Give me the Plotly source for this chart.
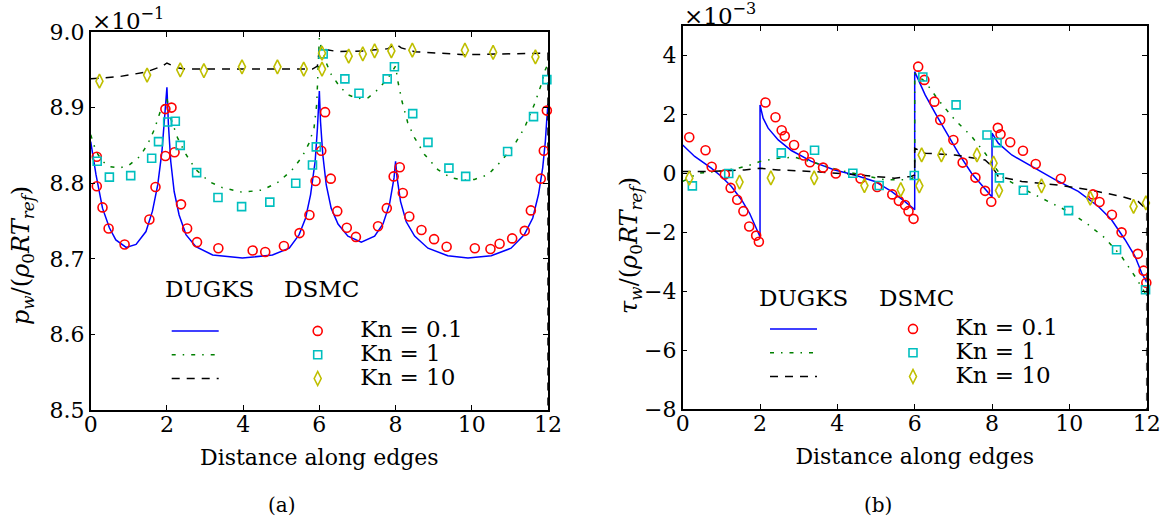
import plotly.graph_objects as go

# ---------------- data : left panel (pressure, units of 1e-1) ----------------
p_blue_x = [0, 0.14, 0.31, 0.49, 0.66, 0.93, 1.19, 1.45, 1.62, 1.76, 1.87, 1.96, 2.0, 2.04, 2.10, 2.19,
            2.32, 2.50, 2.76, 3.20, 3.98, 4.77, 5.21, 5.47, 5.64, 5.77, 5.89, 5.95, 6.0, 6.03, 6.09,
            6.18, 6.31, 6.49, 6.75, 7.10, 7.45, 7.67, 7.84, 7.96, 8.0, 8.04, 8.13, 8.28, 8.50, 8.85,
            9.37, 9.90, 10.51, 11.03, 11.38, 11.60, 11.75, 11.86, 11.93, 11.97, 12.0]
p_blue_y = [8.855, 8.811, 8.767, 8.741, 8.725, 8.715, 8.719, 8.736, 8.763, 8.798, 8.842, 8.895, 8.927,
            8.877, 8.829, 8.789, 8.758, 8.732, 8.716, 8.705, 8.701, 8.705, 8.714, 8.732, 8.754, 8.785,
            8.829, 8.873, 8.922, 8.882, 8.838, 8.798, 8.767, 8.746, 8.730, 8.722, 8.730, 8.746, 8.772,
            8.807, 8.829, 8.807, 8.776, 8.749, 8.730, 8.714, 8.704, 8.701, 8.704, 8.714, 8.732, 8.754,
            8.785, 8.820, 8.855, 8.886, 8.905]

p_green_x = [0, 0.14, 0.31, 0.49, 0.75, 1.01, 1.28, 1.49, 1.67, 1.84, 2.0, 2.10, 2.28, 2.50, 2.76,
             3.11, 3.46, 3.98, 4.51, 4.94, 5.29, 5.55, 5.73, 5.86, 5.93, 5.97, 6.0, 6.05, 6.14, 6.31,
             6.53, 6.75, 7.01, 7.28, 7.54, 7.80, 8.0, 8.06, 8.17, 8.32, 8.50, 8.76, 9.11, 9.46, 9.81,
             10.07, 10.42, 10.77, 11.12, 11.38, 11.64, 11.82, 11.93, 12.0]
p_green_y = [8.864, 8.842, 8.829, 8.822, 8.820, 8.824, 8.835, 8.851, 8.871, 8.897, 8.912, 8.886, 8.860,
             8.838, 8.818, 8.802, 8.794, 8.788, 8.791, 8.802, 8.818, 8.835, 8.853, 8.873, 8.904, 8.948,
             8.992, 8.979, 8.964, 8.944, 8.928, 8.917, 8.912, 8.913, 8.924, 8.939, 8.955, 8.935, 8.908,
             8.880, 8.860, 8.838, 8.818, 8.807, 8.804, 8.805, 8.811, 8.829, 8.851, 8.873, 8.904, 8.930,
             8.950, 8.958]

p_black_x = [0, 0.75, 1.45, 1.89, 2.0, 2.24, 2.50, 3.5, 4.5, 5.5, 5.82, 5.95, 6.0, 6.5, 7.19, 7.80,
             8.0, 8.15, 8.50, 9.81, 11.12, 11.9, 12.0, 12.0]
p_black_y = [8.938, 8.941, 8.947, 8.955, 8.959, 8.953, 8.951, 8.951, 8.951, 8.951, 8.951, 8.955, 8.978,
             8.974, 8.975, 8.978, 8.984, 8.979, 8.974, 8.970, 8.971, 8.972, 8.972, 8.0]

p_red_x = [0.16, 0.16, 0.31, 0.47, 0.89, 1.54, 1.70, 1.96, 1.96, 2.12, 2.20, 2.37, 2.53, 2.79, 3.35,
           4.25, 4.58, 5.07, 5.48, 5.74, 5.90, 6.05, 6.15, 6.30, 6.47, 6.72, 6.96, 7.54, 7.77, 7.95,
           8.11, 8.19, 8.36, 8.68, 9.01, 9.34, 10.08, 10.49, 10.73, 11.06, 11.39, 11.55, 11.81, 11.89, 11.97]
p_red_y = [8.835, 8.796, 8.768, 8.740, 8.719, 8.752, 8.795, 8.836, 8.898, 8.900, 8.841, 8.772, 8.740,
           8.722, 8.714, 8.711, 8.709, 8.717, 8.734, 8.758, 8.803, 8.843, 8.894, 8.806, 8.763, 8.741,
           8.729, 8.743, 8.767, 8.809, 8.821, 8.787, 8.756, 8.738, 8.726, 8.716, 8.714, 8.713, 8.720,
           8.727, 8.737, 8.764, 8.806, 8.843, 8.896]

p_cyan_x = [0.17, 0.49, 1.05, 1.60, 1.78, 2.02, 2.22, 2.35, 2.78, 3.34, 3.96, 4.70, 5.38, 5.82, 5.92,
            6.10, 6.67, 7.04, 7.78, 7.97, 8.45, 8.85, 9.40, 9.84, 10.94, 11.62, 11.97]
p_cyan_y = [8.829, 8.808, 8.810, 8.833, 8.855, 8.881, 8.882, 8.850, 8.814, 8.781, 8.769, 8.775, 8.800,
            8.824, 8.848, 8.971, 8.938, 8.919, 8.938, 8.954, 8.892, 8.854, 8.820, 8.809, 8.842, 8.888, 8.937]

p_yel_x = [0.23, 1.48, 2.35, 2.97, 3.97, 4.90, 5.59, 6.07, 6.07, 6.77, 7.14, 7.45, 7.89, 8.44, 9.82,
           10.56, 11.67]
p_yel_y = [8.935, 8.943, 8.950, 8.949, 8.954, 8.954, 8.951, 8.951, 8.972, 8.968, 8.971, 8.975, 8.975,
           8.976, 8.976, 8.973, 8.967]

# ---------------- data : right panel (shear stress, units of 1e-3) ----------------
t_blue_x = [0, 0.31, 0.74, 1.0, 1.26, 1.52, 1.73, 1.91, 2.0, 2.0, 2.08, 2.21, 2.47, 2.81, 3.33, 3.93,
            4.45, 4.97, 5.40, 5.74, 5.91, 6.0, 6.0, 6.09, 6.27, 6.53, 6.78, 7.13, 7.47, 7.82, 8.0, 8.0,
            8.16, 8.51, 9.03, 9.63, 10.23, 10.75, 11.09, 11.44, 11.70, 11.87, 12.0]
t_blue_y = [0.97, 0.58, 0.18, -0.10, -0.44, -0.89, -1.35, -1.86, -2.15, 2.33, 1.88, 1.54, 1.14, 0.78,
            0.41, 0.12, -0.05, -0.27, -0.61, -0.95, -1.12, -1.23, 3.46, 3.18, 2.67, 2.05, 1.48, 0.69,
            0.01, -0.55, -0.80, 1.37, 1.03, 0.63, 0.24, -0.21, -0.61, -1.12, -1.57, -2.25, -2.82,
            -3.38, -3.70]

t_green_x = [0, 0.40, 0.91, 1.43, 1.86, 2.0, 2.47, 2.90, 3.50, 4.02, 4.62, 5.22, 5.74, 5.91, 6.0, 6.0,
             6.27, 6.61, 7.04, 7.47, 7.82, 8.0, 8.25, 8.68, 9.2, 9.63, 10.06, 10.49, 10.92, 11.35,
             11.70, 12.0]
t_green_y = [-0.27, 0.01, 0.07, 0.18, 0.33, 0.41, 0.52, 0.55, 0.33, 0.12, -0.05, -0.21, -0.21, -0.19,
             -0.10, 3.40, 3.12, 2.50, 1.82, 1.26, 0.69, 0.35, -0.10, -0.44, -0.78, -1.06, -1.35, -1.74,
             -2.19, -2.82, -3.50, -4.15]

t_black_x = [0, 0.74, 1.60, 2.0, 2.47, 3.33, 4.19, 5.05, 5.48, 5.91, 6.0, 6.0, 6.27, 7.04, 7.82, 8.0,
             8.16, 8.77, 9.63, 10.49, 11.35, 11.78, 11.96, 12.0, 12.0]
t_black_y = [0.07, 0.07, 0.12, 0.18, 0.12, 0.07, -0.01, -0.12, -0.16, -0.10, -0.05, 0.86, 0.69, 0.63,
             0.46, 0.24, -0.10, -0.27, -0.38, -0.55, -0.78, -0.95, -1.18, -1.30, -12.0]

t_red_x = [0.17, 0.59, 0.75, 1.09, 1.24, 1.41, 1.57, 1.72, 1.90, 1.97, 2.14, 2.40, 2.56, 2.64, 2.88,
           3.13, 3.29, 3.63, 3.96, 4.60, 5.03, 5.42, 5.59, 5.75, 5.84, 5.97, 6.09, 6.25, 6.51, 6.66,
           7.00, 7.24, 7.57, 7.82, 7.98, 8.15, 8.22, 8.47, 8.80, 9.13, 9.78, 10.61, 10.78, 11.10,
           11.35, 11.77, 11.92, 11.99]
t_red_y = [1.23, 0.79, 0.23, -0.03, -0.49, -0.89, -1.28, -1.80, -2.11, -2.32, 2.41, 1.91, 1.47, 1.27,
           0.97, 0.61, 0.38, 0.20, 0.00, -0.17, -0.46, -0.71, -0.93, -1.07, -1.28, -1.54, 3.63, 3.18,
           2.44, 1.82, 1.14, 0.37, -0.14, -0.59, -0.96, 1.55, 1.33, 1.06, 0.77, 0.32, -0.18, -0.71,
           -0.97, -1.40, -2.00, -2.73, -3.30, -3.71]

t_cyan_x = [0.25, 1.19, 2.55, 3.41, 4.40, 5.08, 5.99, 6.21, 7.07, 7.87, 8.13, 8.19, 8.81, 9.98, 11.22, 11.97]
t_cyan_y = [-0.42, 0.00, 0.70, 0.79, 0.01, -0.41, -0.07, 3.28, 2.33, 1.31, 1.05, -0.15, -0.57, -1.26,
            -2.59, -3.95]

t_yel_x = [0.17, 1.47, 2.28, 3.40, 4.70, 5.64, 6.12, 6.18, 6.69, 7.61, 8.04, 8.18, 9.28, 10.54, 11.66, 11.98]
t_yel_y = [-0.16, -0.29, -0.15, -0.15, -0.41, -0.55, -0.42, 0.63, 0.63, 0.63, 0.35, -0.58, -0.42,
           -0.84, -1.12, -1.00]

# ---------------- labels / ticks ----------------
kn_labels = ["Kn = 0.1", "Kn = 1", "Kn = 10"]
x_ticks = [0, 2, 4, 6, 8, 10, 12]
p_ticks = [8.5, 8.6, 8.7, 8.8, 8.9, 9.0]
p_tick_text = ["8.5", "8.6", "8.7", "8.8", "8.9", "9.0"]
t_ticks = [-8, -6, -4, -2, 0, 2, 4]
t_tick_text = ["\u22128", "\u22126", "\u22124", "\u22122", "0", "2", "4"]

pairs = [(p_blue_x, p_blue_y), (p_green_x, p_green_y), (p_black_x, p_black_y),
         (p_red_x, p_red_y), (p_cyan_x, p_cyan_y), (p_yel_x, p_yel_y),
         (t_blue_x, t_blue_y), (t_green_x, t_green_y), (t_black_x, t_black_y),
         (t_red_x, t_red_y), (t_cyan_x, t_cyan_y), (t_yel_x, t_yel_y)]
for a, b in pairs:
    assert len(a) == len(b), (len(a), len(b))

FONT = "DejaVu Serif"
W, H = 1167, 525


def fx(p):
    return p / W


def fy(p):
    return 1 - p / H


line_styles = [dict(color="#0000ff", width=1.5, dash="solid"),
               dict(color="#008000", width=1.5, dash="4px,7px,1.5px,7px"),
               dict(color="#000000", width=1.5, dash="8px,7px")]
marker_styles = [dict(symbol="circle-open", size=9, color="#ff0000", line=dict(color="#ff0000", width=1.6)),
                 dict(symbol="square-open", size=8, color="#00bfbf", line=dict(color="#00bfbf", width=1.6)),
                 dict(symbol="diamond-tall-open", size=10, color="#bfbf00", line=dict(color="#bfbf00", width=1.6))]

fig = go.Figure()

panels = [
    ("x", "y", [(p_blue_x, p_blue_y), (p_green_x, p_green_y), (p_black_x, p_black_y)],
     [(p_red_x, p_red_y), (p_cyan_x, p_cyan_y), (p_yel_x, p_yel_y)], "legend", "legend2"),
    ("x2", "y2", [(t_blue_x, t_blue_y), (t_green_x, t_green_y), (t_black_x, t_black_y)],
     [(t_red_x, t_red_y), (t_cyan_x, t_cyan_y), (t_yel_x, t_yel_y)], "legend3", "legend4"),
]

for xa, ya, lines, marks, lg_l, lg_m in panels:
    for (xs, ys), ls in zip(lines, line_styles):
        fig.add_trace(go.Scatter(x=xs, y=ys, mode="lines", line=ls, name=" ",
                                 xaxis=xa, yaxis=ya, legend=lg_l, hoverinfo="skip"))
    for (xs, ys), ms, lab in zip(marks, marker_styles, kn_labels):
        fig.add_trace(go.Scatter(x=xs, y=ys, mode="markers", marker=ms,
                                 name='<span style="font-size:23px">%s</span>' % lab,
                                 xaxis=xa, yaxis=ya, legend=lg_m, hoverinfo="skip", cliponaxis=False))

axis_common = dict(showline=True, linecolor="black", linewidth=1.5, mirror="allticks",
                   ticks="inside", ticklen=5, tickwidth=1, tickcolor="black",
                   showgrid=False, zeroline=False, automargin=False,
                   tickfont=dict(family=FONT, size=22, color="black"))

title_font = dict(family=FONT, size=22, color="black")
ytitle_font = dict(family=FONT, size=24, color="black")

legend_common = dict(xanchor="left", yanchor="top", bgcolor="rgba(0,0,0,0)", borderwidth=0,
                     font=dict(family=FONT, size=16, color="black"), traceorder="normal",
                     itemsizing="trace", tracegroupgap=0, itemclick=False, itemdoubleclick=False)

fig.update_layout(
    width=W, height=H, margin=dict(l=0, r=0, t=0, b=0),
    paper_bgcolor="white", plot_bgcolor="white", template="none",
    font=dict(family=FONT, color="black"),
    showlegend=True,
    xaxis=dict(domain=[fx(90.7), fx(548)], range=[0, 12], anchor="y",
               tickvals=x_ticks, ticktext=[str(v) for v in x_ticks], ticklabelstandoff=-6,
               title=dict(text="Distance along edges", font=title_font, standoff=13), **axis_common),
    yaxis=dict(domain=[fy(410), fy(32)], range=[8.5, 9.0], anchor="x",
               tickvals=p_ticks, ticktext=p_tick_text, **axis_common),
    xaxis2=dict(domain=[fx(682.7), fx(1146.7)], range=[0, 12], anchor="y2",
                tickvals=x_ticks, ticktext=[str(v) for v in x_ticks], ticklabelstandoff=-6,
                title=dict(text="Distance along edges", font=title_font, standoff=13), **axis_common),
    yaxis2=dict(domain=[fy(409), fy(26.3)], range=[-8, 5], anchor="x2",
                tickvals=t_ticks, ticktext=t_tick_text, **axis_common),
    legend=dict(x=fx(166.7), y=fy(314), itemwidth=47, **legend_common),
    legend2=dict(x=fx(275.2), y=fy(314), itemwidth=75, **legend_common),
    legend3=dict(x=fx(765), y=fy(312), itemwidth=47, **legend_common),
    legend4=dict(x=fx(870.5), y=fy(312), itemwidth=75, **legend_common),
)

ann_font = dict(family=FONT, size=23, color="black")
annotations = [
    dict(text="DUGKS", x=fx(163), y=fy(289), xanchor="left", yanchor="middle", font=ann_font),
    dict(text="DSMC", x=fx(282), y=fy(289), xanchor="left", yanchor="middle", font=ann_font),
    dict(text="DUGKS", x=fx(757), y=fy(298), xanchor="left", yanchor="middle", font=ann_font),
    dict(text="DSMC", x=fx(877), y=fy(298), xanchor="left", yanchor="middle", font=ann_font),
    dict(text="\u00d710<sup>\u22121</sup>", x=fx(90), y=fy(36), xanchor="left", yanchor="bottom",
         font=dict(family=FONT, size=23, color="black")),
    dict(text="\u00d710<sup>\u22123</sup>", x=fx(682), y=fy(31), xanchor="left", yanchor="bottom",
         font=dict(family=FONT, size=23, color="black")),
    dict(text="<i>p</i><sub><i>w</i></sub>/(<i>\u03c1</i><sub>0</sub><i>RT</i><sub><i>ref</i></sub>)",
         x=fx(22), y=fy(256), xanchor="center", yanchor="middle", textangle=-90, font=ytitle_font),
    dict(text="<i>\u03c4</i><sub><i>w</i></sub>/(<i>\u03c1</i><sub>0</sub><i>RT</i><sub><i>ref</i></sub>)",
         x=fx(630), y=fy(246), xanchor="center", yanchor="middle", textangle=-90, font=ytitle_font),
    dict(text="(a)", x=fx(282), y=fy(505), xanchor="center", yanchor="middle",
         font=dict(family=FONT, size=20, color="black")),
    dict(text="(b)", x=fx(878), y=fy(505), xanchor="center", yanchor="middle",
         font=dict(family=FONT, size=20, color="black")),
]
for a in annotations:
    a.update(xref="paper", yref="paper", showarrow=False)
fig.update_layout(annotations=annotations)

fig.write_html("out.html")
